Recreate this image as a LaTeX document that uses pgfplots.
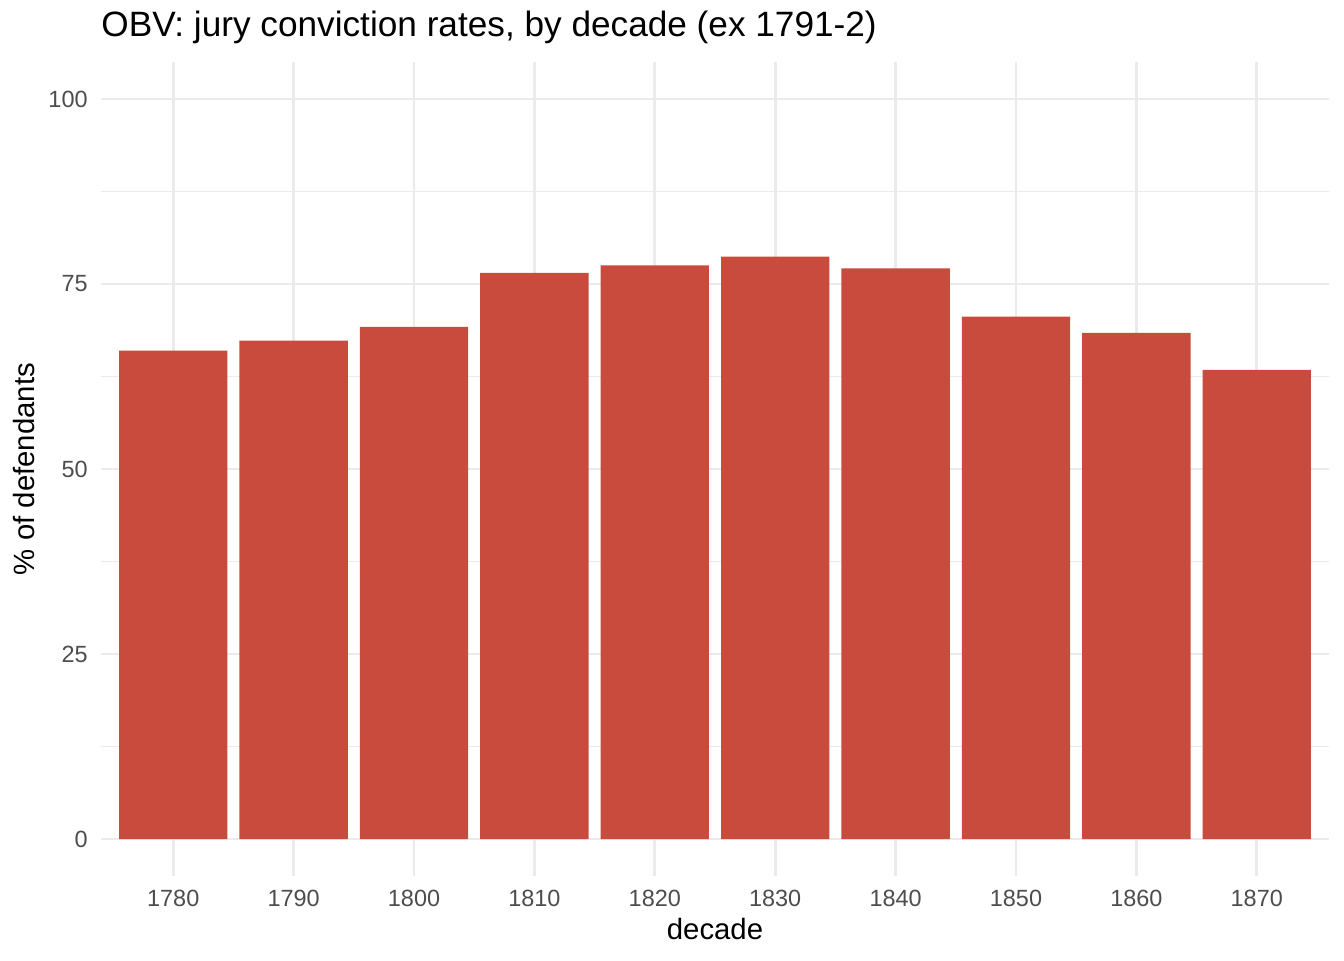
\documentclass[border=0pt]{standalone}
\usepackage{pgfplots}
\pgfplotsset{compat=1.18}
\usepackage{fontspec}
\setmainfont{Liberation Sans}
\definecolor{barred}{HTML}{C94B3D}
\definecolor{gridgray}{HTML}{EBEBEB}
\definecolor{ticklab}{HTML}{4D4D4D}
\begin{document}
\begin{tikzpicture}
\begin{axis}[
  name=ax,
  at={(0,0)}, anchor=south west,
  width=614pt, height=407pt, scale only axis,
  xmin=1774, xmax=1876, ymin=-5, ymax=105,
  axis line style={draw=none},
  major tick length=0pt, minor tick length=0pt,
  xtick={1780,1790,...,1870},
  ytick={0,25,50,75,100},
  minor ytick={12.5,37.5,62.5,87.5},
  xmajorgrids, ymajorgrids, yminorgrids,
  major grid style={color=gridgray, line width=1.42pt},
  minor grid style={color=gridgray, line width=0.71pt},
  /pgf/number format/assume math mode=true,
  /pgf/number format/1000 sep={},
  xticklabel style={anchor=base, yshift=-15pt, inner sep=0pt, font=\fontsize{11.73}{13}\selectfont, text=ticklab},
  yticklabel style={anchor=east, xshift=-6.5pt, inner sep=0pt, font=\fontsize{11.73}{13}\selectfont, text=ticklab},
]
\addplot[ybar, bar width=9, fill=barred, draw=none] coordinates {
  (1780,66.0) (1790,67.35) (1800,69.2) (1810,76.5) (1820,77.5)
  (1830,78.7) (1840,77.1) (1850,70.6) (1860,68.4) (1870,63.4)
};
\end{axis}
\node[anchor=base west, inner sep=0pt, font=\fontsize{17.6}{20}\selectfont] at ([yshift=12.5pt]ax.north west) {OBV: jury conviction rates, by decade (ex 1791-2)};
\node[anchor=base, inner sep=0pt, font=\fontsize{14.67}{17}\selectfont] at ([yshift=-31.5pt]ax.south) {decade};
\node[anchor=base, rotate=90, inner sep=0pt, font=\fontsize{14.67}{17}\selectfont] at ([xshift=-33pt]ax.west) {\% of defendants};
\pgfresetboundingbox
\path ([xshift=-50.5pt,yshift=-42pt]ax.south west) rectangle ([xshift=7.5pt,yshift=31pt]ax.north east);
\end{tikzpicture}
\end{document}
